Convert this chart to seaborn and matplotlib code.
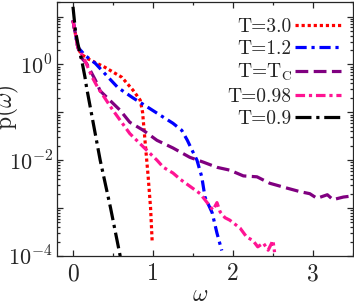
import numpy as np
import pandas as pd
import matplotlib
matplotlib.use("Agg")
import matplotlib.pyplot as plt
import matplotlib.ticker as mticker
import seaborn as sns

# values (omega, p(omega))
w_30 = [0, 0.03, 0.06, 0.10, 0.19, 0.40, 0.61, 0.75, 0.84, 0.87, 0.90, 0.94, 0.97, 0.99]
p_30 = [8.3, 4.4, 2.3, 1.65, 1.3, 0.87, 0.54, 0.29, 0.18, 0.10, 0.026, 0.0045, 0.001, 0.0002]

w_12 = [0, 0.03, 0.06, 0.15, 0.28, 0.44, 0.56, 0.75, 0.96, 1.13, 1.25, 1.36, 1.43, 1.49,
        1.55, 1.61, 1.65, 1.74, 1.80, 1.86]
p_12 = [8.3, 4.4, 2.3, 1.55, 1.05, 0.54, 0.33, 0.20, 0.12, 0.079, 0.059, 0.042, 0.026, 0.016,
        0.010, 0.0045, 0.0017, 0.0008, 0.0003, 0.00013]

w_tc = [0, 0.03, 0.06, 0.10, 0.17, 0.28, 0.34, 0.59, 0.71, 0.88, 1.05, 1.25, 1.46, 1.63,
        1.80, 1.96, 2.13, 2.30, 2.46, 2.68, 2.84, 2.96, 3.05, 3.18, 3.25, 3.38, 3.50]
p_tc = [8.3, 4.4, 2.3, 1.4, 1.05, 0.47, 0.28, 0.11, 0.062, 0.042, 0.026, 0.018, 0.0115, 0.0091,
        0.0071, 0.0062, 0.0047, 0.0045, 0.0033, 0.0026, 0.0022, 0.0020, 0.0016, 0.0019, 0.0015,
        0.0017, 0.0018]

w_098 = [0, 0.03, 0.06, 0.15, 0.24, 0.31, 0.50, 0.71, 0.84, 0.96, 1.05, 1.13, 1.25, 1.34,
         1.59, 1.75, 1.80, 1.84, 1.90, 1.96, 2.09, 2.17, 2.25, 2.31, 2.38, 2.44, 2.50, 2.52]
p_098 = [8.3, 4.4, 2.3, 1.2, 0.54, 0.33, 0.11, 0.036, 0.022, 0.014, 0.010, 0.0071, 0.0054, 0.004,
         0.002, 0.00091, 0.0013, 0.00083, 0.00063, 0.00056, 0.00038, 0.00025, 0.00021, 0.000155,
         0.000186, 0.000132, 0.00021, 0.00012]

w_09 = [0, 0.03, 0.06, 0.11, 0.15, 0.17, 0.34, 0.47, 0.59, 0.61]
p_09 = [16, 5.1, 2.75, 1.2, 0.54, 0.33, 0.01, 0.001, 0.0001, 0.00007]

labels = ['T=3.0', 'T=1.2', r'T=T$_\mathrm{C}$', 'T=0.98', 'T=0.9']
series = [(w_30, p_30), (w_12, p_12), (w_tc, p_tc), (w_098, p_098), (w_09, p_09)]

df = pd.concat([pd.DataFrame({'w': w, 'p': p, 'T': lab})
                for lab, (w, p) in zip(labels, series)], ignore_index=True)

palette = dict(zip(labels, ['#ff0000', '#0000ff', '#800080', '#ff1493', '#000000']))
dashes = dict(zip(labels, [(1, 0.9), (3.5, 1.5, 1, 1.5), (4, 1.7),
                           (3, 1.2, 1, 1.2), (5, 1.5, 1, 1.5)]))

sns.set_style("ticks")
plt.rcParams['mathtext.fontset'] = 'cm'
plt.rcParams['font.family'] = ['cmr10', 'DejaVu Serif']
plt.rcParams['axes.unicode_minus'] = False

fig = plt.figure(figsize=(3.54, 3.04), dpi=100)
ax = fig.add_axes([0.161, 0.158, 0.836, 0.835])

sns.lineplot(data=df, x='w', y='p', hue='T', style='T', palette=palette, dashes=dashes,
             sort=False, estimator=None, linewidth=2.3, ax=ax)

ax.set_yscale('log')
ax.set_xlim(-0.2, 3.5)
ax.set_ylim(1e-4, 20)

ax.xaxis.set_major_locator(mticker.MultipleLocator(1))
ax.xaxis.set_minor_locator(mticker.MultipleLocator(0.5))
ax.xaxis.set_major_formatter(mticker.FuncFormatter(lambda v, pos: '%d' % round(v)))
ax.yaxis.set_major_locator(mticker.LogLocator(base=10, numticks=20))
ax.yaxis.set_minor_locator(mticker.LogLocator(base=10, subs=np.arange(2, 10), numticks=20))
ax.yaxis.set_minor_formatter(mticker.NullFormatter())


def ylab(v, pos):
    e = int(round(np.log10(v)))
    return r'$10^{%d}$' % e if e % 2 == 0 else ''


ax.yaxis.set_major_formatter(mticker.FuncFormatter(ylab))
ax.tick_params(which='both', direction='in', top=True, right=True, width=0.9)
ax.tick_params(which='major', length=4)
ax.tick_params(which='minor', length=2)
ax.tick_params(axis='x', pad=5, labelsize=17)
ax.tick_params(axis='y', pad=3, labelsize=16)
for s in ax.spines.values():
    s.set_linewidth(0.9)

ax.set_xlabel(r'$\omega$', fontsize=17)
ax.set_ylabel(r'p$(\omega)$', fontsize=17)
ax.xaxis.set_label_coords(0.485, -0.11)
ax.yaxis.set_label_coords(-0.12, 0.585)

ax.legend(loc='upper right', bbox_to_anchor=(1.0, 0.985), frameon=False, markerfirst=False,
          prop={'size': 14}, handlelength=2.4, labelspacing=0.22, handletextpad=0.15,
          borderaxespad=0.0, borderpad=0.6)

fig.savefig('out.png', dpi=100)
